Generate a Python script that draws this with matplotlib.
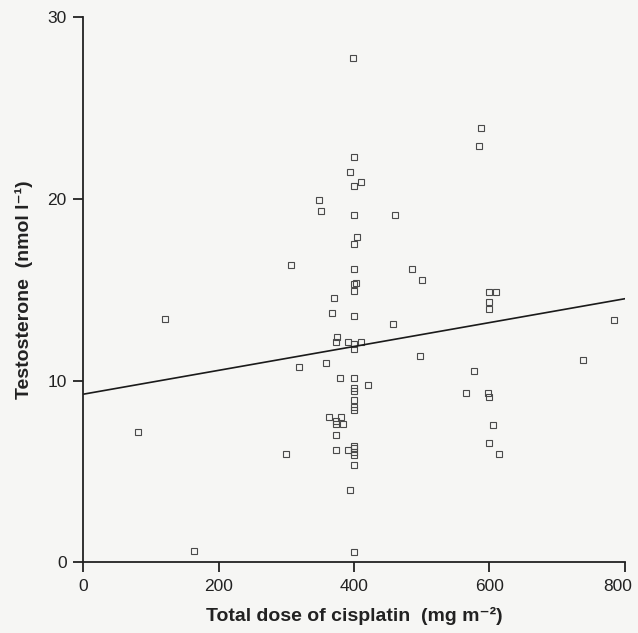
import matplotlib
matplotlib.use('Agg')
import matplotlib.pyplot as plt
import matplotlib.transforms as mtransforms

# dose (mg m-2) and testosterone (nmol l-1)
dose = [398, 588, 585, 400, 394, 400, 410, 349, 352, 400,
        461, 405, 400, 307, 400, 486, 500, 400, 403, 400,
        599, 610, 370, 599, 599, 368, 400, 120, 784, 457,
        375, 373, 391, 411, 400, 400, 498, 738, 359, 319,
        578, 380, 400, 421, 400, 400, 566, 598, 599, 400,
        400, 400, 363, 381, 373, 373, 384, 605, 81, 374,
        599, 400, 400, 374, 391, 400, 299, 615, 400, 400,
        394, 164, 400]
testosterone = [27.77, 23.88, 22.91, 22.29, 21.5, 20.7, 20.9, 19.94, 19.33, 19.11,
                19.11, 17.92, 17.52, 16.35, 16.14, 16.13, 15.54, 15.32, 15.35, 14.93,
                14.9, 14.9, 14.56, 14.31, 13.92, 13.74, 13.55, 13.37, 13.32, 13.13,
                12.38, 12.14, 12.14, 12.14, 12.0, 11.72, 11.34, 11.12, 10.97, 10.75,
                10.53, 10.14, 10.14, 9.74, 9.58, 9.44, 9.33, 9.33, 9.11, 8.95,
                8.56, 8.38, 8.01, 8.01, 7.79, 7.61, 7.6, 7.54, 7.19, 7.0,
                6.55, 6.42, 6.27, 6.18, 6.18, 6.09, 5.98, 5.94, 5.92, 5.35,
                3.98, 0.62, 0.57]

# regression line end points
fit_x = [0, 800]
fit_y = [9.25, 14.5]

x_ticks = [0, 200, 400, 600, 800]
y_ticks = [0, 10, 20, 30]

plt.rcParams['font.family'] = ['Liberation Sans', 'DejaVu Sans']

fig = plt.figure(figsize=(6.38, 6.33), dpi=100, facecolor='#f6f6f4')
ax = fig.add_axes([0.1306, 0.1117, 0.8484, 0.8613])
ax.set_facecolor('none')

ax.plot(dose, testosterone, linestyle='none', marker='s', markersize=3.8,
        markerfacecolor='none', markeredgecolor='#4a4a4a', markeredgewidth=0.8)
ax.plot(fit_x, fit_y, color='#1a1a1a', linewidth=1.2)

ax.set_xlim(0, 800)
ax.set_ylim(0, 30)
ax.set_xticks(x_ticks)
ax.set_yticks(y_ticks)

for side in ['top', 'right']:
    ax.spines[side].set_visible(False)
for side in ['left', 'bottom']:
    ax.spines[side].set_linewidth(1.3)
    ax.spines[side].set_color('#222222')

ax.tick_params(direction='out', length=7, width=1.3, colors='#222222',
               labelsize=12.5, pad=5)

# keep the last x label inside the picture, as in the scan
last = ax.get_xticklabels()[-1]
last.set_transform(last.get_transform() +
                   mtransforms.ScaledTranslation(-5 / 72, 0, fig.dpi_scale_trans))

ax.set_xlabel('Total dose of cisplatin  (mg m\u207b\u00b2)', fontsize=14,
              fontweight='bold', color='#222222', labelpad=9)
ax.set_ylabel('Testosterone  (nmol l\u207b\u00b9)', fontsize=14,
              fontweight='bold', color='#222222', labelpad=10)

fig.savefig('out.png', dpi=100, facecolor=fig.get_facecolor())
